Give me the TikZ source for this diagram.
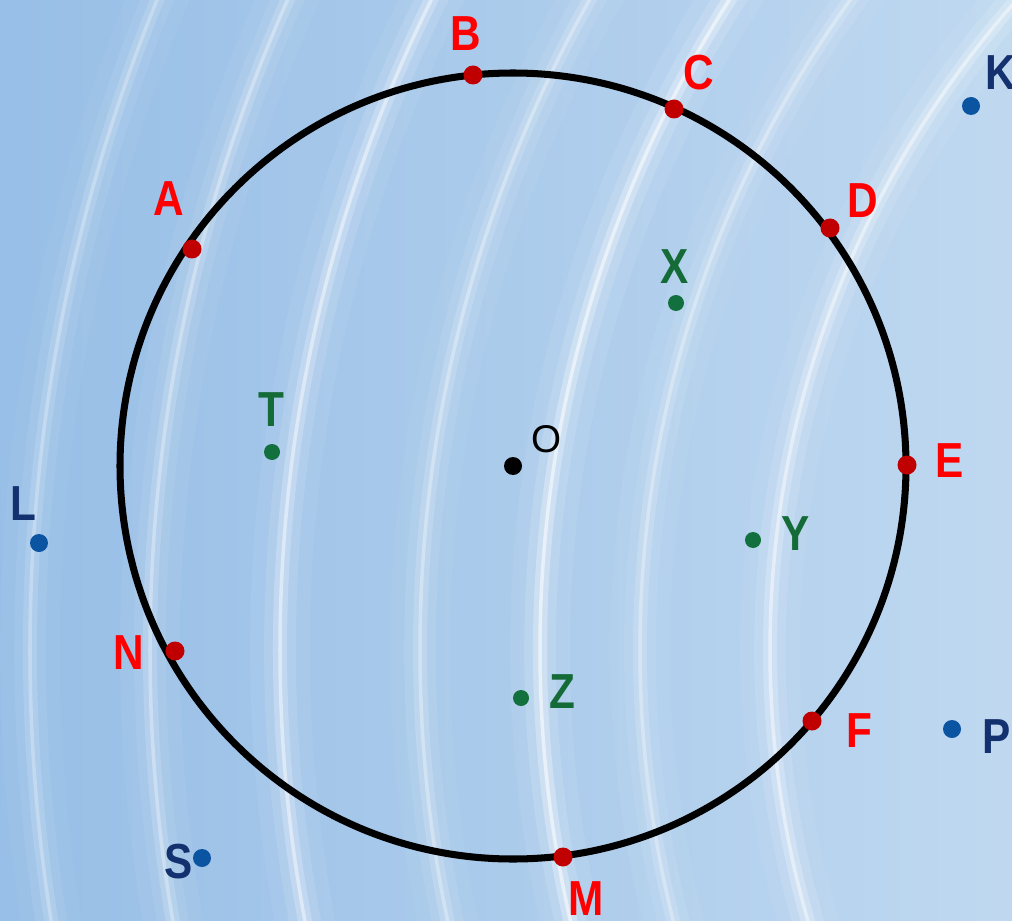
\documentclass[tikz,border=0pt]{standalone}
\usepackage{fontspec}
\usetikzlibrary{positioning}
\newfontfamily\lblfont[FakeStretch=0.86]{Liberation Sans}
\newfontfamily\ofont{Liberation Sans}
\definecolor{bgA}{HTML}{B2D0EE}
\definecolor{bgB}{HTML}{95BDE6}
\definecolor{bgC}{HTML}{ABCBEB}
\definecolor{bgD}{HTML}{D4E6F6}
\definecolor{ptred}{HTML}{C00000}
\definecolor{lblred}{HTML}{FF0000}
\definecolor{ptgreen}{HTML}{11703D}
\definecolor{lblgreen}{HTML}{146B37}
\definecolor{ptblue}{HTML}{0A54A2}
\definecolor{lblblue}{HTML}{13306F}
\pgfdeclarehorizontalshading{sky}{100bp}{color(0bp)=(bgA); color(22bp)=(bgB); color(50bp)=(bgC); color(100bp)=(bgD)}

\begin{document}
\begin{tikzpicture}[
  x=0.2mm, y=-0.2mm,
  dotred/.style={circle, fill=ptred, inner sep=0pt, minimum size=3.8mm},
  dotgreen/.style={circle, fill=ptgreen, inner sep=0pt, minimum size=3.2mm},
  dotblue/.style={circle, fill=ptblue, inner sep=0pt, minimum size=3.6mm},
  lbl/.style={inner sep=0pt, font=\lblfont\bfseries\fontsize{28}{28}\selectfont},
  lblr/.style={lbl, text=lblred},
  lblg/.style={lbl, text=lblgreen},
  lblb/.style={lbl, text=lblblue}
]
  \useasboundingbox (0,0) rectangle (1012,921);

  % Background
  \begin{scope}
    \clip (0,0) rectangle (1012,921);
    \shade[shading=sky] (0,0) rectangle (1012,921);
    \foreach \r/\o in {980/0.5, 1110/0.35, 1210/0.6, 1330/0.35, 1470/0.5, 1600/0.35, 1720/0.3}
      \foreach \w/\k in {34/0.12, 18/0.22, 8/0.45, 2/0.9} {
        \pgfmathsetmacro\op{\o*\k}
        \draw[white, line width=\w pt, opacity=\op] (1750,650) circle (\r);
      }
  \end{scope}

  % Circle and centre
  \node[circle, fill=black, inner sep=0pt, minimum size=3.6mm] (O) at (513,466) {};
  \node[inner sep=0pt, font=\ofont\fontsize{22}{22}\selectfont] (lO) at (547,439) {O};
  \draw[line width=4pt] (O) circle (393);

  % Points on the circle
  \node[dotred] (A) at (192,249) {};
  \node[dotred] (B) at (473,75) {};
  \node[dotred] (C) at (674,109) {};
  \node[dotred] (D) at (830,228) {};
  \node[dotred] (E) at (907,465) {};
  \node[dotred] (F) at (812,721) {};
  \node[dotred] (M) at (563,857) {};
  \node[dotred] (N) at (175,651) {};
  \node[lblr] (lA) at (169,199) {A};
  \node[lblr] (lB) at (466,34) {B};
  \node[lblr] (lC) at (699,73) {C};
  \node[lblr] (lD) at (863,201) {D};
  \node[lblr] (lE) at (950,461) {E};
  \node[lblr] (lF) at (859,731) {F};
  \node[lblr] (lM) at (586,899) {M};
  \node[lblr] (lN) at (129,653) {N};

  % Points inside
  \node[dotgreen] (X) at (676,303) {};
  \node[dotgreen] (T) at (272,452) {};
  \node[dotgreen] (Y) at (753,540) {};
  \node[dotgreen] (Z) at (521,698) {};
  \node[lblg] (lX) at (675,267) {X};
  \node[lblg] (lT) at (271,410) {T};
  \node[lblg] (lY) at (796,534) {Y};
  \node[lblg] (lZ) at (562,692) {Z};

  % Points outside
  \node[dotblue] (K) at (971,106) {};
  \node[dotblue] (L) at (39,543) {};
  \node[dotblue] (P) at (952,729) {};
  \node[dotblue] (S) at (202,858) {};
  \node[lblb] (lK) at (1001,73) {K};
  \node[lblb] (lL) at (23,504) {L};
  \node[lblb] (lP) at (997,737) {P};
  \node[lblb] (lS) at (179,862) {S};
\end{tikzpicture}
\end{document}
